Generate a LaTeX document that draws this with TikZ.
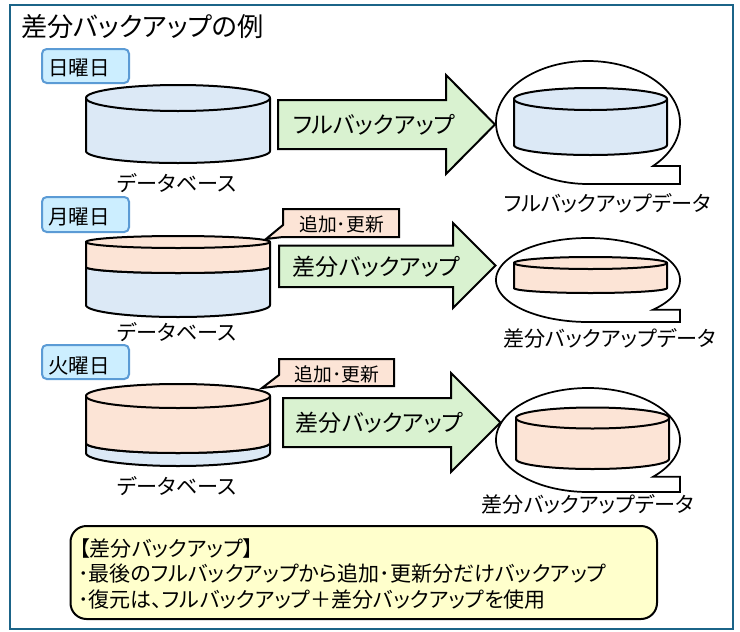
\documentclass[tikz,border=0pt]{standalone}
\usepackage{fontspec}
\setmainfont[RawFeature={+palt}]{Noto Sans CJK JP}
\definecolor{framec}{HTML}{1B6488}
\definecolor{dayfill}{HTML}{CCEEFF}
\definecolor{daydraw}{HTML}{5B9BD5}
\definecolor{dbblue}{HTML}{DCE9F6}
\definecolor{peach}{HTML}{FCE4D6}
\definecolor{arrowgreen}{HTML}{D9F2D0}
\definecolor{noteyellow}{HTML}{FFFFCC}
\newcommand{\ptfont}[1]{\fontsize{#1}{#1}\selectfont}
% drum: x1, x2, top centre y, top ry, bottom side y, bottom ry, fill
\newcommand{\drum}[7]{%
  \pgfmathsetmacro{\dxc}{(#1+#2)/2}%
  \pgfmathsetmacro{\drx}{(#2-#1)/2}%
  \draw[shapeline,fill=#7,line join=round]
    (#1,#3) -- plot[domain=180:0,samples=91] ({\dxc+\drx*cos(\x)},{#5+#6*sin(\x)}) -- (#2,#3)
    -- plot[domain=0:180,samples=91] ({\dxc+\drx*cos(\x)},{#3-#4*sin(\x)}) -- cycle;
  \draw[shapeline] plot[domain=180:0,samples=91] ({\dxc+\drx*cos(\x)},{#3+#4*sin(\x)});
}
% bubble: cy, ry (ellipse centre x 588, rx 92, tail to x 680)
\newcommand{\bubble}[2]{%
  \draw[thinline,fill=white,line join=miter]
    plot[domain=90:405,samples=160] ({588+92*cos(\x)},{#1+#2*sin(\x)})
    -- (680,{#1+0.7071*#2}) -- (680,{#1+#2}) -- cycle;
}
% block arrow: left, top, bottom, head x, head top, head bottom, tip x
\newcommand{\blockarrow}[7]{%
  \draw[shapeline,fill=arrowgreen,line join=miter]
    (#1,#2) -- (#4,#2) -- (#4,#5) -- (#7,{(#5+#6)/2}) -- (#4,#6) -- (#4,#3) -- (#1,#3) -- cycle;
}
\tikzset{
  shapeline/.style={draw=black,line width=1.5pt},
  thinline/.style={draw=black,line width=1.3pt},
  daybox/.style={draw=daydraw,line width=1.5pt,fill=dayfill,rounded corners=3.5pt},
  daytext/.style={font=\ptfont{15.4},inner sep=0pt,anchor=center},
  caption/.style={font=\ptfont{15.85},inner sep=0pt,anchor=center},
  arrowtext/.style={font=\ptfont{17.3},inner sep=0pt,anchor=center},
  addtext/.style={font=\ptfont{14.1},inner sep=0pt,anchor=center},
  addbox/.style={draw=black,line width=1.5pt,fill=peach,line join=miter},
  notetext/.style={font=\ptfont{15.78},inner sep=0pt,anchor=west}
}
\begin{document}
\begin{tikzpicture}[x=0.75pt,y=-0.75pt]
\useasboundingbox (0,0) rectangle (740,632);
\fill[white] (0,0) rectangle (740,632);
\draw[framec,line width=1.5pt] (10,5) rectangle (733,628.5);
\node[font=\ptfont{19.7},inner sep=0pt,anchor=west] (title) at (21,27) {差分バックアップの例};

% Sunday
\draw[daybox] (42,49) rectangle (129,83);
\node[daytext] (sun) at (79,68) {日曜日};
\drum{86}{270}{98}{13}{151}{12}{dbblue}
\node[caption] (db1) at (177,183) {データベース};
\bubble{122.5}{61.5}
\drum{514}{667}{99}{11}{145}{10}{dbblue}
\blockarrow{278}{100}{149}{446}{75}{174}{495}
\node[arrowtext] (a1) at (374,125) {フルバックアップ};
\node[caption] (d1) at (607.5,203) {フルバックアップデータ};

% Monday
\draw[daybox] (42,197) rectangle (129,232);
\node[daytext] (mon) at (79,217.5) {月曜日};
\drum{86}{270}{267}{6}{305}{12}{dbblue}
\drum{86}{270}{242}{6}{267}{6}{peach}
\node[caption] (db2) at (177,332) {データベース};
\draw[addbox] (283,209) -- (399,209) -- (399,237) -- (283,237) -- (266,239) -- (283,225) -- cycle;
\node[addtext] (add1) at (341.5,224) {追加･更新};
\bubble{280}{42}
\drum{514}{667}{263}{6}{288}{5}{peach}
\blockarrow{279}{245.5}{287}{453}{223}{308}{495.5}
\node[arrowtext] (a2) at (376.5,267) {差分バックアップ};
\node[caption] (d2) at (609.5,338) {差分バックアップデータ};

% Tuesday
\draw[daybox] (42,345) rectangle (129,379);
\node[daytext] (tue) at (79,366) {火曜日};
\drum{86}{270}{443}{10}{453}{13}{dbblue}
\drum{86}{270}{396}{12}{443}{10}{peach}
\node[caption] (db3) at (177,486) {データベース};
\draw[addbox] (279,359) -- (394,359) -- (394,386) -- (279,386) -- (262,388) -- (279,375) -- cycle;
\node[addtext] (add2) at (337,374) {追加･更新};
\bubble{440}{52}
\drum{516}{669}{418}{10.5}{459}{10}{peach}
\blockarrow{283}{398}{447}{451}{373}{472}{500.5}
\node[arrowtext] (a3) at (379.5,423) {差分バックアップ};
\node[caption] (d3) at (588,504) {差分バックアップデータ};

% Note
\draw[draw=black,line width=1.5pt,fill=noteyellow,rounded corners=12pt] (70.5,526) rectangle (657,619);
\node[notetext] (n1) at (79,548) {【差分バックアップ】};
\node[notetext] (n2) at (78,574) {･最後のフルバックアップから追加･更新分だけバックアップ};
\node[notetext] (n3) at (78,600) {･復元は、フルバックアップ＋差分バックアップを使用};
\end{tikzpicture}
\end{document}
